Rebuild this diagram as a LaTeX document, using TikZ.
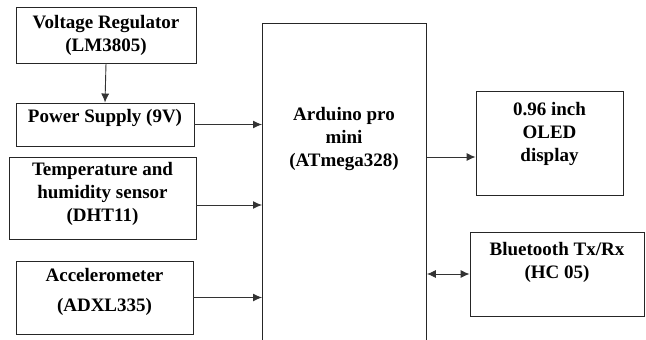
\documentclass[tikz,border=0pt]{standalone}
\usepackage{fontspec}
\setmainfont{Liberation Serif}
\usepackage{tikz}
\usetikzlibrary{arrows.meta,positioning}

\tikzset{
  blk/.style={draw=black!85, line width=0.9pt, inner sep=0pt},
  lbl/.style={align=center, inner sep=0pt, font=\fontsize{19}{23}\selectfont\bfseries},
  conn/.style={draw=black!80, line width=0.9pt, -{Latex[length=9pt,width=8pt]}}
}

\begin{document}
\begin{tikzpicture}[x=1pt, y=-1pt]
    \useasboundingbox (0,0) rectangle (646,340);
    \clip (0,0) rectangle (646,340);

    % input blocks
    \node[blk, minimum width=180pt, minimum height=56pt] (vreg) at (106,35) {};
    \node[blk, minimum width=178pt, minimum height=43pt] (psu) at (105,124.5) {};
    \node[blk, minimum width=187pt, minimum height=82pt] (dht) at (102.5,198) {};
    \node[blk, minimum width=177pt, minimum height=73pt] (accel) at (104.5,297.5) {};

    % controller (runs off the bottom edge)
    \node[blk, minimum width=164pt, minimum height=360pt, anchor=north west] (ard) at (262,23) {};

    % output blocks
    \node[blk, minimum width=147pt, minimum height=104pt] (oled) at (549.5,143) {};
    \node[blk, minimum width=174pt, minimum height=84pt] (bt) at (557,274) {};

    % labels
    \node[lbl] (vregtxt) at (vreg.center) {Voltage Regulator\\(LM3805)};
    \node[lbl, yshift=6.5pt] (psutxt) at (psu.center) {Power Supply (9V)};
    \node[lbl, yshift=4pt] (dhttxt) at (dht.center) {Temperature and\\humidity sensor\\(DHT11)};
    \node[lbl, yshift=5.5pt] (acceltxt) at (accel.center) {Accelerometer\\[7pt](ADXL335)};
    \node[lbl] (ardtxt) at (344,139) {Arduino pro\\mini\\(ATmega328)};
    \node[lbl, yshift=9pt] (oledtxt) at (oled.center) {0.96 inch\\OLED\\display};
    \node[lbl, yshift=11.5pt] (bttxt) at (bt.center) {Bluetooth Tx/Rx\\(HC 05)};

    % connections
    \draw[conn] (vreg.south) -- (psu.north);
    \draw[conn] (psu.east) -- (psu.east -| ard.west);
    \draw[conn] (dht.east |- 0,205) -- (ard.west |- 0,205);
    \draw[conn] (accel.east) -- (accel.east -| ard.west);
    \draw[conn] (ard.east |- 0,157) -- (oled.west |- 0,157);
    \draw[conn, {Latex[length=9pt,width=8pt]}-{Latex[length=9pt,width=8pt]}] (ard.east |- bt.west) -- (bt.west);
\end{tikzpicture}
\end{document}
